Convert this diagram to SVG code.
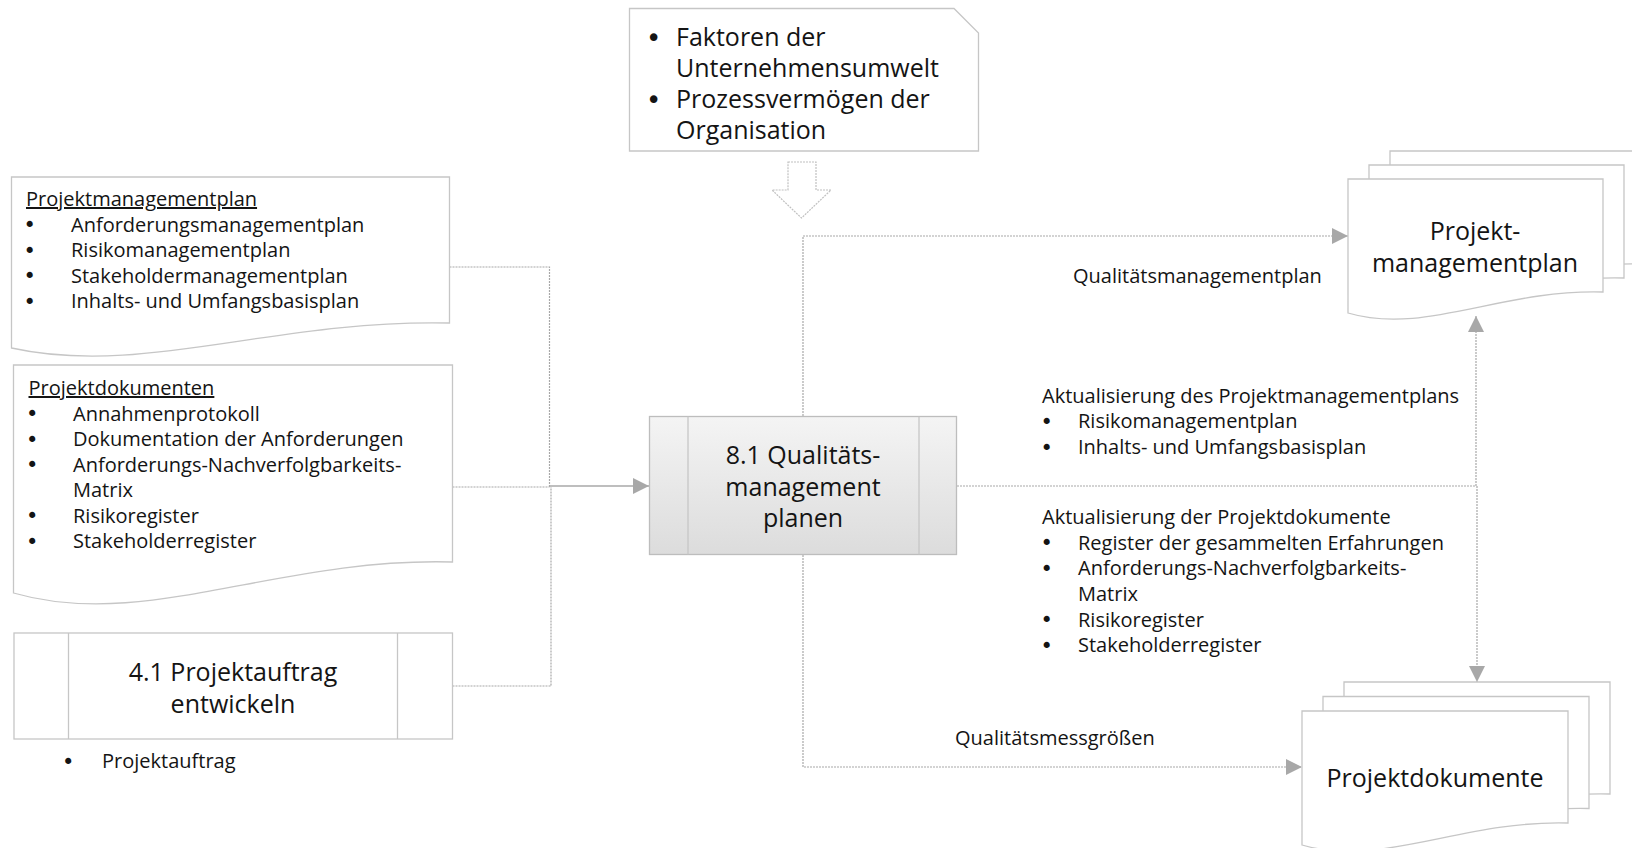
<svg xmlns="http://www.w3.org/2000/svg" width="1632" height="848" viewBox="0 0 1632 848">
<defs>
<linearGradient id="procGrad" x1="0" y1="0" x2="0" y2="1">
<stop offset="0" stop-color="#f4f4f4"/>
<stop offset="1" stop-color="#dcdcdc"/>
</linearGradient>
<marker id="arr" markerUnits="userSpaceOnUse" markerWidth="16" markerHeight="16" refX="16" refY="8" orient="auto">
<path d="M0,0 L16,8 L0,16 Z" fill="#a8a8a8"/>
</marker>
</defs>
<style>
text{font-family:"Open Sans","Noto Sans","Liberation Sans",sans-serif;fill:#141414}
.s{font-size:20px}
.l{font-size:25px}
.c{text-anchor:middle}
.u{text-decoration:underline}
.b{font-family:"DejaVu Sans","Liberation Sans",sans-serif;font-size:21px}
.bl{font-family:"DejaVu Sans","Liberation Sans",sans-serif;font-size:26px}
.shape{fill:#ffffff;stroke:#c6c6c6;stroke-width:1.3}
.proc{fill:url(#procGrad);stroke:#bdbdbd;stroke-width:1.3}
.div{stroke:#c6c6c6;stroke-width:1.3;fill:none}
.cn{fill:none;stroke:#a8a8a8;stroke-width:1.2;stroke-dasharray:2 1}
.cs{fill:none;stroke:#a8a8a8;stroke-width:1.5}
.blk{fill:#ffffff;stroke:#c0c0c0;stroke-width:1.2;stroke-dasharray:2 1}
</style>
<rect width="1632" height="848" fill="#ffffff"/>

<g id="connectors">
<path class="cn" d="M449.5,267 H549.5 V487"/>
<path class="cn" d="M452.5,487 H549.5"/>
<path class="cn" d="M452.5,686 H551 V487"/>
<path class="cs" d="M549.5,486 H649" marker-end="url(#arr)"/>
<path class="cn" d="M803,416 V236 H1348" marker-end="url(#arr)"/>
<path class="cn" d="M957,486 H1476"/>
<path class="cn" d="M1476,486 V316" marker-end="url(#arr)"/>
<path class="cn" d="M1477,486 V682" marker-end="url(#arr)"/>
<path class="cn" d="M803,555 V767 H1302" marker-end="url(#arr)"/>
</g>

<g id="enterprise-factors">
<path class="shape" d="M629.5,8.5 H954 L978.5,33 V151 H629.5 Z"/>
<text class="bl" x="646" y="47">•</text>
<text class="l" x="676" y="46">Faktoren der</text>
<text class="l" x="676" y="77">Unternehmensumwelt</text>
<text class="bl" x="646" y="109">•</text>
<text class="l" x="676" y="108">Prozessvermögen der</text>
<text class="l" x="676" y="139">Organisation</text>
</g>

<g id="input-arrow">
<polygon class="blk" points="788,162 816,162 816,190 831,190 801.5,218 772,190 788,190"/>
</g>

<g id="doc-projektmanagementplan-in">
<path class="shape" d="M11.5,177 H449.5 V323 C274,319 143,377 11.5,348 Z"/>
<text class="s u" x="26" y="206">Projektmanagementplan</text>
<text class="b" x="23.5" y="232">•</text>
<text class="s" x="71" y="231.5">Anforderungsmanagementplan</text>
<text class="b" x="23.5" y="257.5">•</text>
<text class="s" x="71" y="257">Risikomanagementplan</text>
<text class="b" x="23.5" y="283">•</text>
<text class="s" x="71" y="282.5">Stakeholdermanagementplan</text>
<text class="b" x="23.5" y="308.5">•</text>
<text class="s" x="71" y="308">Inhalts- und Umfangsbasisplan</text>
</g>

<g id="doc-projektdokumenten-in">
<path class="shape" d="M13.5,365 H452.5 V562 C277,557 145,631 13.5,593 Z"/>
<text class="s u" x="28.5" y="395">Projektdokumenten</text>
<text class="b" x="26" y="421">•</text>
<text class="s" x="73" y="420.5">Annahmenprotokoll</text>
<text class="b" x="26" y="446.5">•</text>
<text class="s" x="73" y="446">Dokumentation der Anforderungen</text>
<text class="b" x="26" y="472">•</text>
<text class="s" x="73" y="471.5">Anforderungs-Nachverfolgbarkeits-</text>
<text class="s" x="73" y="497">Matrix</text>
<text class="b" x="26" y="523">•</text>
<text class="s" x="73" y="522.5">Risikoregister</text>
<text class="b" x="26" y="548.5">•</text>
<text class="s" x="73" y="548">Stakeholderregister</text>
</g>

<g id="process-4-1">
<rect class="shape" x="14" y="633" width="438.5" height="106"/>
<line class="div" x1="68.5" y1="633" x2="68.5" y2="739"/>
<line class="div" x1="397.5" y1="633" x2="397.5" y2="739"/>
<text class="l c" x="233" y="681">4.1 Projektauftrag</text>
<text class="l c" x="233" y="713">entwickeln</text>
<text class="b" x="62" y="768.5">•</text>
<text class="s" x="102" y="768">Projektauftrag</text>
</g>

<g id="process-8-1">
<rect class="proc" x="649.5" y="416.5" width="307" height="138"/>
<line class="div" x1="688" y1="416.5" x2="688" y2="554.5"/>
<line class="div" x1="919" y1="416.5" x2="919" y2="554.5"/>
<text class="l c" x="803" y="464">8.1 Qualitäts-</text>
<text class="l c" x="803" y="495.5">management</text>
<text class="l c" x="803" y="527">planen</text>
</g>

<g id="labels">
<text class="s" x="1073" y="283">Qualitätsmanagementplan</text>
<text class="s" x="1042" y="403">Aktualisierung des Projektmanagementplans</text>
<text class="b" x="1040.5" y="428.5">•</text>
<text class="s" x="1078" y="428">Risikomanagementplan</text>
<text class="b" x="1040.5" y="454.5">•</text>
<text class="s" x="1078" y="454">Inhalts- und Umfangsbasisplan</text>
<text class="s" x="1042" y="524">Aktualisierung der Projektdokumente</text>
<text class="b" x="1040.5" y="550">•</text>
<text class="s" x="1078" y="549.5">Register der gesammelten Erfahrungen</text>
<text class="b" x="1040.5" y="575.5">•</text>
<text class="s" x="1078" y="575">Anforderungs-Nachverfolgbarkeits-</text>
<text class="s" x="1078" y="600.5">Matrix</text>
<text class="b" x="1040.5" y="627">•</text>
<text class="s" x="1078" y="626.5">Risikoregister</text>
<text class="b" x="1040.5" y="652.5">•</text>
<text class="s" x="1078" y="652">Stakeholderregister</text>
<text class="s" x="955" y="745">Qualitätsmessgrößen</text>
</g>

<g id="doc-projektmanagementplan-out">
<path class="shape" d="M1390,151 H1645 V264 C1543,261 1466.5,307.6 1390,285 Z"/>
<path class="shape" d="M1369,165 H1624 V278 C1522,275 1445.5,321.6 1369,299 Z"/>
<path class="shape" d="M1348,179 H1603 V292 C1501,289 1424.5,335.6 1348,313 Z"/>
<text class="l c" x="1475" y="240">Projekt-</text>
<text class="l c" x="1475" y="272">managementplan</text>
</g>

<g id="doc-projektdokumente-out">
<path class="shape" d="M1344,682 H1610 V794 C1504,791 1424,839 1344,816 Z"/>
<path class="shape" d="M1323,696.5 H1589 V808.5 C1483,805.5 1403,853.5 1323,830.5 Z"/>
<path class="shape" d="M1302,711 H1568 V823 C1462,820 1382,868 1302,845 Z"/>
<text class="l c" x="1435" y="787">Projektdokumente</text>
</g>
</svg>
